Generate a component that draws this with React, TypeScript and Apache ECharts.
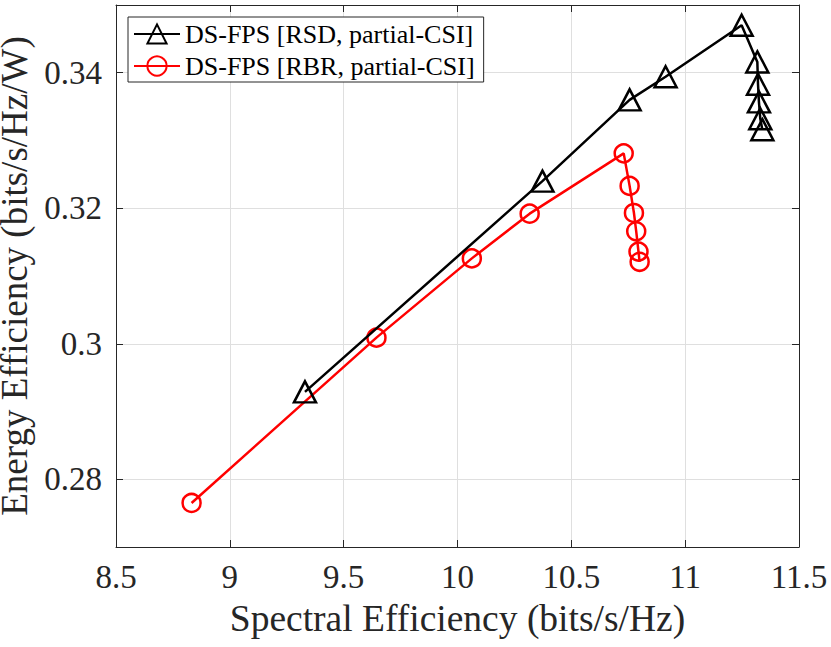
import React, { useEffect, useRef } from "react";
import * as echarts from "echarts";

const xTicks = [8.5, 9, 9.5, 10, 10.5, 11, 11.5];
const yTicks = [0.28, 0.3, 0.32, 0.34];

const seriesNames = ["DS-FPS [RSD, partial-CSI]", "DS-FPS [RBR, partial-CSI]"];

const rsdX = [9.33, 10.373, 10.756, 10.914, 11.248, 11.317, 11.32, 11.324, 11.33, 11.339];
const rsdY = [0.2929, 0.324, 0.336, 0.3394, 0.347, 0.3416, 0.3383, 0.3357, 0.3332, 0.3316];

const rbrX = [8.832, 9.644, 10.063, 10.317, 10.73, 10.756, 10.775, 10.785, 10.795, 10.8];
const rbrY = [0.2765, 0.3009, 0.3126, 0.3192, 0.3281, 0.3233, 0.3193, 0.3166, 0.3136, 0.3121];

const FONT = "Liberation Serif";
const AX = "#262626";

export default function App() {
  const ref = useRef<HTMLDivElement>(null);
  useEffect(() => {
    if (!ref.current) return;
    const chart = echarts.init(ref.current, null, { renderer: "svg" });
    const pairs = (xs: number[], ys: number[]) => xs.map((x, i) => [x, ys[i]]);
    const tickCommon = { show: true, inside: true, length: 7, lineStyle: { color: AX, width: 1 } };
    chart.setOption({
      animation: false,
      backgroundColor: "#fff",
      textStyle: { fontFamily: FONT },
      grid: { left: 116, top: 5, right: 32, bottom: 100, containLabel: false, outerBoundsMode: "none" },
      legend: {
        left: 128,
        top: 17,
        orient: "vertical",
        backgroundColor: "#fff",
        borderColor: AX,
        borderWidth: 1,
        padding: [4, 9, 3, 5],
        itemWidth: 46,
        itemHeight: 24,
        itemGap: 6,
        textStyle: { fontFamily: FONT, fontSize: 26, color: "#000" },
        data: seriesNames,
      },
      xAxis: [
        {
          type: "value",
          min: xTicks[0],
          max: xTicks[xTicks.length - 1],
          interval: 0.5,
          name: "Spectral Efficiency (bits/s/Hz)",
          nameLocation: "middle",
          nameGap: 52,
          nameTextStyle: { fontFamily: FONT, fontSize: 37.5, color: AX },
          axisLine: { show: true, lineStyle: { color: AX, width: 1 } },
          axisTick: tickCommon,
          axisLabel: { fontFamily: FONT, fontSize: 33, color: AX, margin: 13 },
          splitLine: { show: true, lineStyle: { color: "#dfdfdf", width: 1 } },
        },
        {
          type: "value",
          position: "top",
          min: xTicks[0],
          max: xTicks[xTicks.length - 1],
          interval: 0.5,
          axisLine: { show: true, lineStyle: { color: AX, width: 1 } },
          axisTick: tickCommon,
          axisLabel: { show: false },
          splitLine: { show: false },
        },
      ],
      yAxis: [
        {
          type: "value",
          min: 0.27,
          max: 0.35,
          name: "Energy Efficiency (bits/s/Hz/W)",
          nameLocation: "middle",
          nameGap: 70,
          nameTextStyle: { fontFamily: FONT, fontSize: 37, lineHeight: 38, color: AX },
          axisLine: { show: true, lineStyle: { color: AX, width: 1 } },
          axisTick: { ...tickCommon, customValues: yTicks },
          axisLabel: { fontFamily: FONT, fontSize: 33, color: AX, margin: 14, customValues: yTicks },
          splitLine: { show: true, lineStyle: { color: "#dfdfdf", width: 1 } },
        },
        {
          type: "value",
          position: "right",
          min: 0.27,
          max: 0.35,
          axisLine: { show: true, lineStyle: { color: AX, width: 1 } },
          axisTick: { ...tickCommon, customValues: yTicks },
          axisLabel: { show: false, customValues: yTicks },
          splitLine: { show: false },
        },
      ],
      series: [
        {
          name: seriesNames[0],
          type: "line",
          xAxisIndex: 0,
          yAxisIndex: 0,
          data: pairs(rsdX, rsdY),
          symbol: "triangle",
          symbolSize: [22, 21],
          showAllSymbol: true,
          lineStyle: { color: "#000", width: 2.5 },
          itemStyle: { color: "transparent", borderColor: "#000", borderWidth: 2.5 },
          z: 3,
        },
        {
          name: seriesNames[1],
          type: "line",
          xAxisIndex: 0,
          yAxisIndex: 0,
          data: pairs(rbrX, rbrY),
          symbol: "circle",
          symbolSize: 18,
          showAllSymbol: true,
          lineStyle: { color: "#ff0000", width: 2.5 },
          itemStyle: { color: "transparent", borderColor: "#ff0000", borderWidth: 2.5 },
          z: 2,
        },
      ],
    });
    return () => chart.dispose();
  }, []);
  return (
    <div
      ref={ref}
      style={{ position: "fixed", left: 0, top: 0, width: 831, height: 647, background: "#fff" }}
    />
  );
}
